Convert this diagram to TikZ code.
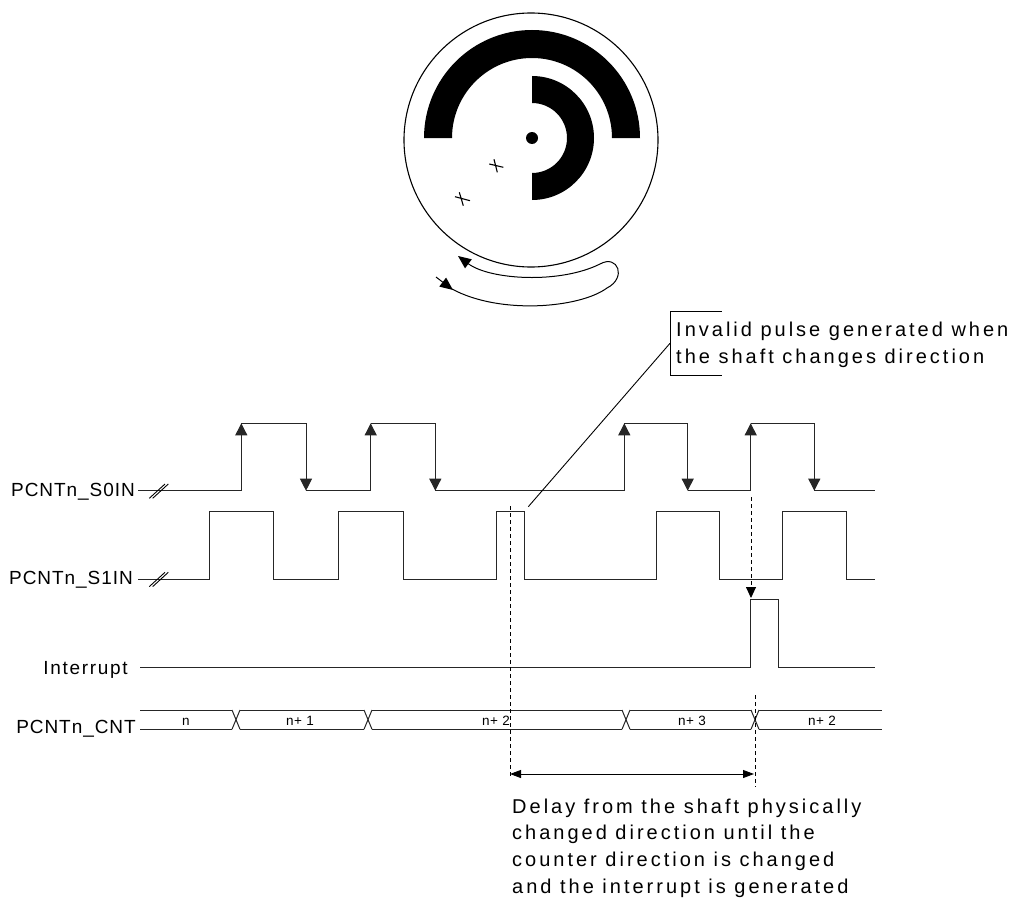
\documentclass[tikz,border=0pt]{standalone}
\usepackage{fontspec}
\setmainfont{Liberation Sans}
\newfontfamily\lblfont[LetterSpace=5]{Liberation Sans}
\newfontfamily\intfont[LetterSpace=9]{Liberation Sans}
\newfontfamily\notefont[LetterSpace=15]{Liberation Sans}
\usetikzlibrary{arrows.meta}
\begin{document}
\begin{tikzpicture}[x=1pt,y=-1pt,
  sig/.style={line width=1pt, draw=black!85},
  tip/.style={-{Triangle[length=12pt,width=12pt]}},
  lbl/.style={font=\lblfont\fontsize{19}{22}\selectfont, inner sep=0pt, anchor=base east},
  note/.style={font=\notefont\fontsize{20}{26.7}\selectfont, inner sep=0pt, align=left, anchor=base west},
  cnt/.style={font=\lblfont\fontsize{13.5}{16}\selectfont, inner sep=0pt, anchor=base},
  guide/.style={line width=0.9pt, dash pattern=on 4pt off 3pt}]
\useasboundingbox (0,0) rectangle (1013,899);

% ---------- disc ----------
\draw[line width=1.1pt] (531,140) circle[radius=127pt];
\fill (424,138) arc[start angle=180,end angle=0,radius=108pt] -- (612,138)
      arc[start angle=0,end angle=180,radius=80pt] -- cycle;
\fill (532,76) arc[start angle=90,end angle=-90,radius=62pt] -- (532,173)
      arc[start angle=-90,end angle=90,radius=35pt] -- cycle;
\fill (532,138) circle[radius=6pt];
\draw[line width=1.1pt] (489.3,164) -- (503.3,167.3) (494,159.3) -- (497.3,172.3);
\draw[line width=1.1pt] (455,196.7) -- (470,200.7) (459.3,192.3) -- (463.3,205.7);
% rotation arrow
\draw[line width=1pt, -{Triangle[length=13pt,width=11pt]}] (452,289)
  .. controls (500,315) and (580,308) .. (607,288)
  .. controls (627,278) and (618,254) .. (600,264)
  .. controls (560,284) and (490,280) .. (458,256);
\draw[line width=1pt, -{Triangle[length=13pt,width=11pt]}] (436,277) -- (453,290);

% ---------- labels ----------
\node[lbl] (l0) at (135,496.7) {PCNTn\_S0IN};
\node[lbl] (l1) at (133,584) {PCNTn\_S1IN};
\node[lbl, font=\intfont\fontsize{19}{22}\selectfont] (li) at (128,674) {Interrupt};
\node[lbl] (lc) at (136,733.3) {PCNTn\_CNT};

% ---------- S0IN ----------
\draw[sig] (138,490.7) -- (241.3,490.7);
\draw[sig] (306,490.7) -- (370.7,490.7);
\draw[sig] (435.3,490.7) -- (624.3,490.7);
\draw[sig] (687.7,490.7) -- (750.7,490.7);
\draw[sig] (814.3,490.7) -- (875,490.7);
\foreach \r/\f in {241.3/306, 370.7/435.3, 624.3/687.7, 750.7/814.3}{
  \draw[sig,tip] (\r,490.7) -- (\r,423.3);
  \draw[sig] (\r,423.3) -- (\f,423.3);
  \draw[sig,tip] (\f,423.3) -- (\f,490.7);
}
\draw[line width=0.9pt] (149.3,498.3) -- (165,484) (152.7,498.3) -- (168.3,484);

% ---------- S1IN ----------
\draw[sig] (138,579) -- (209.3,579) -- (209.3,511) -- (273.7,511) -- (273.7,579)
  -- (338.7,579) -- (338.7,511) -- (403.3,511) -- (403.3,579)
  -- (496.7,579) -- (496.7,511) -- (524.7,511) -- (524.7,579)
  -- (656,579) -- (656,511) -- (719.3,511) -- (719.3,579)
  -- (782.7,579) -- (782.7,511) -- (846,511) -- (846,579) -- (875,579);
\draw[line width=0.9pt] (149.3,586.6) -- (165,572.3) (152.7,586.6) -- (168.3,572.3);

% ---------- Interrupt ----------
\draw[sig] (140,667.3) -- (750.7,667.3) -- (750.7,599.3) -- (778.7,599.3)
  -- (778.7,667.3) -- (875,667.3);

% ---------- CNT bus ----------
\foreach \a/\b in {140/232, 240/364, 372/622, 630/751, 759/881.7}{
  \draw[sig] (\a,710) -- (\b,710);
  \draw[sig] (\a,729.3) -- (\b,729.3);
}
\foreach \c in {236, 368, 626, 755}{
  \draw[sig] (\c-4,710) -- (\c+4,729.3);
  \draw[sig] (\c-4,729.3) -- (\c+4,710);
}
\node[cnt] (c0) at (186,725) {n};
\node[cnt] (c1) at (300,725) {n+ 1};
\node[cnt] (c2) at (496,725) {n+ 2};
\node[cnt] (c3) at (692,725) {n+ 3};
\node[cnt] (c4) at (822,725) {n+ 2};

% ---------- guides ----------
\draw[guide] (510,506) -- (510,778);
\draw[guide, -{Triangle[length=11pt,width=10pt]}] (751,497) -- (751,598);
\draw[guide] (755,695) -- (755,787);
\draw[line width=0.9pt, {Triangle[length=11pt,width=8pt]}-{Triangle[length=11pt,width=8pt]}] (510,774) -- (754,774);

% ---------- callout ----------
\draw[line width=0.9pt] (721.7,311.7) -- (670,311.7) -- (670,375) -- (721.7,375);
\draw[line width=0.9pt] (528.3,506.7) -- (670,343.3);
\node[note] (inv) at (676,363) {Invalid pulse generated when\\the shaft changes direction};
\node[note] (dly) at (512,893.3) {Delay from the shaft physically\\changed direction until the\\counter direction is changed\\and the interrupt is generated};
\end{tikzpicture}
\end{document}
